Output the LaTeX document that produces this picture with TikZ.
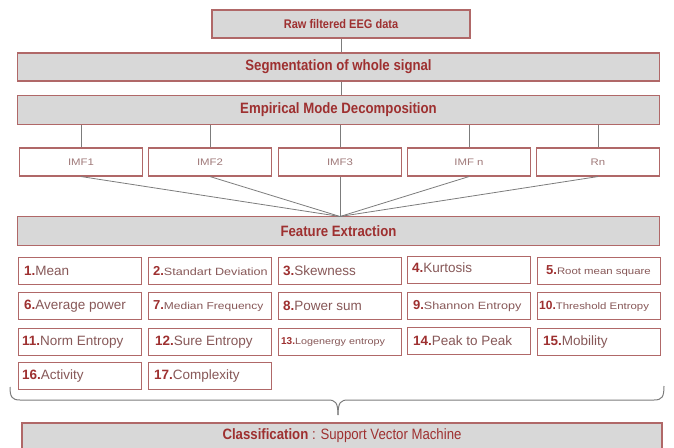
\documentclass[tikz,border=0pt]{standalone}
\usepackage{fontspec}
\setmainfont{Liberation Sans}
\newfontfamily\cond[FakeStretch=0.88]{Liberation Sans}
\newfontfamily\widef[FakeStretch=1.2]{Liberation Sans}
\definecolor{bord}{HTML}{B06868}
\definecolor{txt}{HTML}{9E3030}
\definecolor{gfill}{HTML}{D8D8D8}
\definecolor{ftxt}{HTML}{875858}
\definecolor{imftxt}{HTML}{A07A7A}
\definecolor{lin}{HTML}{7C7C7C}
\begin{document}
\begin{tikzpicture}[x=1pt,y=-1pt,
  gbox/.style={draw=bord,line width=1.3pt,fill=gfill,inner sep=0pt,anchor=center,text=txt,font=\cond\bfseries\fontsize{15}{17}\selectfont},
  ibox/.style={draw=bord,line width=1.1pt,fill=white,inner sep=0pt,minimum width=123,minimum height=28,anchor=center,text=imftxt,font=\widef\fontsize{9.5}{11}\selectfont},
  fbox/.style={draw=bord,line width=1.1pt,fill=white,inner sep=0pt,minimum width=123,minimum height=27,anchor=center},
  ftext/.style={anchor=west,inner sep=0pt,text=ftxt,font=\fontsize{13.5}{15}\selectfont},
  stext/.style={anchor=west,inner sep=0pt,text=ftxt,font=\widef\fontsize{#1}{12}\selectfont},
  conn/.style={draw=lin,line width=0.8pt}]
\useasboundingbox (0,0) rectangle (674,447);
% main boxes
\node[gbox,minimum width=258,minimum height=28,font=\cond\bfseries\fontsize{12.5}{14}\selectfont] (raw) at (341,24) {Raw filtered EEG data};
\node[gbox,minimum width=642,minimum height=28] (seg) at (338.5,67) {Segmentation of whole signal};
\node[gbox,minimum width=642,minimum height=29] (emd) at (338.5,110) {Empirical Mode Decomposition};
% IMF boxes
\node[ibox] (i1) at (81,162) {IMF1};
\node[ibox] (i2) at (210,162) {IMF2};
\node[ibox] (i3) at (340,162) {IMF3};
\node[ibox] (i4) at (469,162) {IMF n};
\node[ibox] (i5) at (598,162) {Rn};
\node[gbox,minimum width=642,minimum height=29] (fe) at (338.5,231) {Feature Extraction};
\coordinate (conv) at (340,216.5);
% connectors
\draw[conn] (raw.south) -- (raw.south |- seg.north);
\draw[conn] (raw.south |- seg.south) -- (raw.south |- emd.north);
\foreach \i in {i1,i2,i3,i4,i5} {
  \draw[conn] (\i.north |- emd.south) -- (\i.north);
  \draw[conn] (\i.south) -- (conv);
}
% feature boxes
\foreach \n/\cx/\cy in {f1/80/271,f2/210/271,f3/340/271,f4/469/270,f5/599/271,
  f6/80/306,f7/210/306,f8/340/306,f9/469/306,f10/599/306,
  f11/80/342,f12/210/342,f13/340/342,f14/469/341,f15/599/342,
  f16/80/376,f17/210/376} {
  \node[fbox] (\n) at (\cx,\cy) {};
}
\newcommand\fnum[1]{\textcolor{txt}{\bfseries #1}}
\newcommand\snum[2]{\textcolor{txt}{\normalfont\bfseries\fontsize{#1}{14}\selectfont #2}}
\node[ftext] (t1) at ([xshift=6pt]f1.west) {\fnum{1.}Mean};
\node[stext=10.5] (t2) at ([xshift=5pt]f2.west) {\snum{13}{2.}Standart Deviation};
\node[ftext] (t3) at ([xshift=5pt]f3.west) {\fnum{3.}Skewness};
\node[ftext] (t4) at ([xshift=5pt,yshift=2pt]f4.west) {\fnum{4.}Kurtosis};
\node[stext=9.5] (t5) at ([xshift=9pt]f5.west) {\snum{13}{5.}Root mean square};
\node[ftext] (t6) at ([xshift=6pt]f6.west) {\fnum{6.}Average power};
\node[stext=10] (t7) at ([xshift=5pt]f7.west) {\snum{13}{7.}Median Frequency};
\node[ftext] (t8) at ([xshift=5pt]f8.west) {\fnum{8.}Power sum};
\node[stext=10.5] (t9) at ([xshift=6pt]f9.west) {\snum{13}{9.}Shannon Entropy};
\node[stext=9.5] (t10) at ([xshift=2pt]f10.west) {\snum{12}{10.}Threshold Entropy};
\node[ftext] (t11) at ([xshift=4pt]f11.west) {\fnum{11.}Norm Entropy};
\node[ftext] (t12) at ([xshift=7pt]f12.west) {\fnum{12.}Sure Entropy};
\node[stext=9] (t13) at ([xshift=3pt]f13.west) {\snum{10}{13.}Logenergy entropy};
\node[ftext] (t14) at ([xshift=6pt]f14.west) {\fnum{14.}Peak to Peak};
\node[ftext] (t15) at ([xshift=6pt]f15.west) {\fnum{15.}Mobility};
\node[ftext] (t16) at ([xshift=4pt]f16.west) {\fnum{16.}Activity};
\node[ftext] (t17) at ([xshift=6pt]f17.west) {\fnum{17.}Complexity};
% classification
\node[gbox,minimum width=640,minimum height=26,font=\cond\fontsize{15}{17}\selectfont] (cls) at (342,436) {\textbf{Classification} : Support Vector Machine};
% brace
\coordinate (bl) at (10,387);
\coordinate (br) at (664,386);
\coordinate (tip) at (338,415);
\draw[conn,line width=1pt] (bl) .. controls (10,397) and (12,400) .. (20,400) -- (328,400)
  .. controls (335,400) and (338,402) .. (tip);
\draw[conn,line width=1pt] (tip) .. controls (338,402) and (341,400) .. (348,400) -- (654,400)
  .. controls (662,400) and (664,397) .. (br);
\end{tikzpicture}
\end{document}
